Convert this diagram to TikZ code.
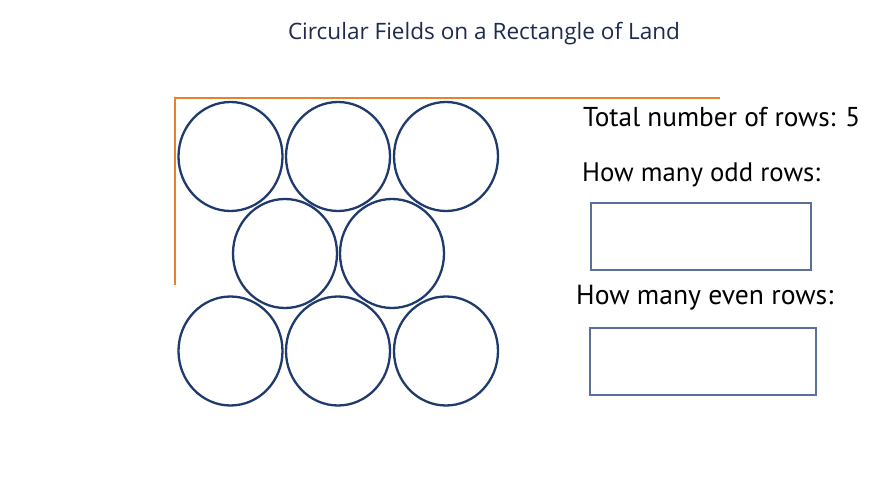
\documentclass[tikz,border=0pt]{standalone}
\usepackage{fontspec}
\setmainfont{Open Sans}
\newfontfamily\handfont{PT Sans}
\usepackage{graphicx}
\usetikzlibrary{shapes.geometric}
\definecolor{navy}{HTML}{1F3B6E}
\definecolor{orng}{HTML}{E5822F}
\definecolor{boxc}{HTML}{5C6F98}
\definecolor{titlec}{HTML}{1E2A4F}
\begin{document}
\begin{tikzpicture}[x=1pt,y=-1pt,
  field/.style={draw=navy,line width=2.3pt,ellipse,minimum width=104pt,minimum height=109pt,inner sep=0pt},
  answer/.style={draw=boxc,line width=1.6pt,inner sep=0pt},
  hand/.style={anchor=west,inner sep=0pt,text=black,font=\handfont}]
\useasboundingbox (0,0) rectangle (889,500);
\fill[white] (0,0) rectangle (889,500);
\node[text=titlec,inner sep=0pt] (title) at (484,34) {\resizebox{392pt}{!}{Circular Fields on a Rectangle of Land}};
% land boundary
\coordinate (tr) at (720,98);
\coordinate (tl) at (175,98);
\coordinate (bl) at (175,285);
\draw[orng,line width=2pt] (tr) -- (tl) -- (bl);
% circles
\node[field] (c1) at (230.5,156.5) {};
\node[field] (c2) at (338,156.5) {};
\node[field] (c3) at (446,156.5) {};
\node[field] (c4) at (285,253.5) {};
\node[field] (c5) at (392,253.5) {};
\node[field] (c6) at (230.5,351) {};
\node[field] (c7) at (338,351) {};
\node[field] (c8) at (446,351) {};
% text
\node[hand] (t1) at (583,117) {\resizebox{277pt}{!}{Total number of rows: 5}};
\node[hand] (t2) at (582,175) {\resizebox{238pt}{!}{How many odd rows:}};
\node[hand] (t3) at (576,298) {\resizebox{257pt}{!}{How many even rows:}};
% answer boxes
\node[answer,minimum width=220pt,minimum height=67pt] (b1) at (701,236.5) {};
\node[answer,minimum width=226pt,minimum height=67pt] (b2) at (703,361.5) {};
\end{tikzpicture}
\end{document}
